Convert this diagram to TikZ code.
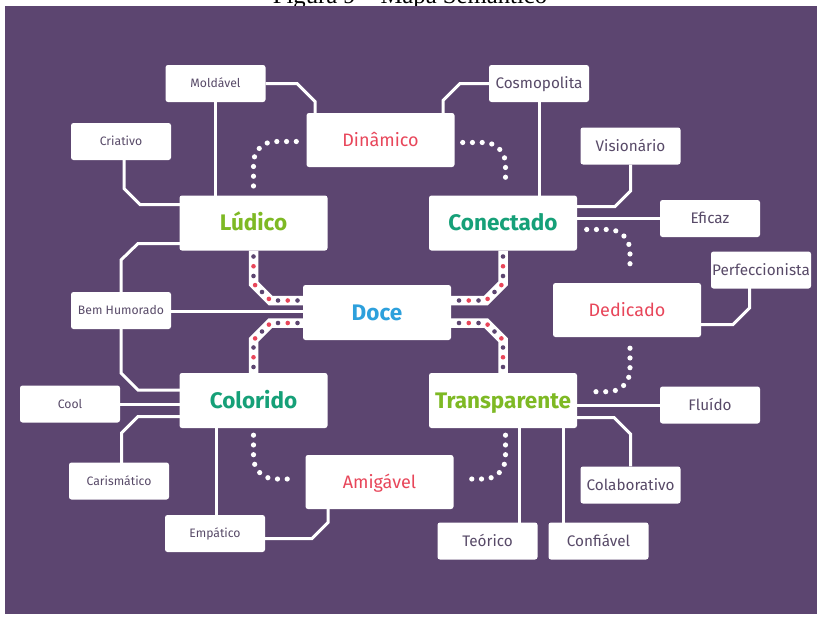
\documentclass[tikz,border=0pt]{standalone}
\usepackage{fontspec}
\setmainfont{Fira Sans}
\newfontfamily\captionfont{Liberation Serif}
\usetikzlibrary{calc}

\definecolor{plum}{RGB}{92,69,112}
\definecolor{leaf}{RGB}{126,185,36}
\definecolor{jade}{RGB}{22,160,120}
\definecolor{sky}{RGB}{45,160,220}
\definecolor{coral}{RGB}{232,70,90}
\definecolor{ink}{RGB}{88,74,104}

\pgfdeclarelayer{back}
\pgfdeclarelayer{wires}
\pgfsetlayers{back,wires,main}

\tikzset{
  card/.style={fill=white, rounded corners=2.5pt, inner sep=0pt, text depth=0pt},
  hub/.style={card, minimum width=148pt, minimum height=55pt, text height=15.2pt,
    font=\fontsize{22.5}{22.5}\selectfont\bfseries},
  trait/.style={card, minimum width=148pt, minimum height=54pt, text height=12.4pt,
    text=coral, font=\fontsize{18}{18}\selectfont},
  tagL/.style={card, minimum width=100pt, minimum height=37pt, text height=8.3pt,
    text=ink, font=\fontsize{12.2}{12.2}\selectfont},
  tagR/.style={card, minimum width=100pt, minimum height=37pt, text height=10.5pt,
    text=ink, font=\fontsize{15.3}{15.3}\selectfont},
  wire/.style={draw=white, line width=3pt},
  trail/.style={draw=white, line width=5.2pt, line cap=round,
    dash pattern=on 0pt off 9.75pt, rounded corners=21.5pt},
  track/.style={draw=white, line width=9.5pt},
  beadP/.style={draw=plum, line width=4.6pt, line cap=round,
    dash pattern=on 0pt off 19.51pt},
  beadR/.style={draw=coral, line width=4.6pt, line cap=round,
    dash pattern=on 0pt off 19.51pt, dash phase=9.755pt},
}

\begin{document}
\begin{tikzpicture}[x=1pt,y=-1pt]
\useasboundingbox (0,0) rectangle (821,616);

% central hubs
\node[hub,text=leaf] (ludico) at (253.5,223) {Lúdico};
\node[hub,text=jade] (conectado) at (503,223) {Conectado};
\node[hub,text=jade] (colorido) at (253.5,400.5) {Colorido};
\node[hub,text=leaf] (transparente) at (503,400.5) {Transparente};
\node[hub,text=sky] (doce) at (377,312.5) {Doce};

% linking traits
\node[trait] (dinamico) at (380.5,140) {Dinâmico};
\node[trait] (dedicado) at (627,310) {Dedicado};
\node[trait] (amigavel) at (379.5,482) {Amigável};

% outer tags
\node[tagL] (moldavel) at (215.5,83.5) {Moldável};
\node[tagL] (criativo) at (121,141.5) {Criativo};
\node[tagL] (bemhumorado) at (121,310.5) {Bem Humorado};
\node[tagL] (cool) at (70,404) {Cool};
\node[tagL] (carismatico) at (119,481) {Carismático};
\node[tagL] (empatico) at (215,533.5) {Empático};
\node[tagR] (cosmopolita) at (539,83.5) {Cosmopolita};
\node[tagR] (visionario) at (630.5,146) {Visionário};
\node[tagR] (eficaz) at (710,218.5) {Eficaz};
\node[tagR] (perfeccionista) at (761,270) {Perfeccionista};
\node[tagR] (fluido) at (710,405) {Fluído};
\node[tagR] (colaborativo) at (630.5,485) {Colaborativo};
\node[tagR] (teorico) at (487.5,541) {Teórico};
\node[tagR] (confiavel) at (598.5,541) {Confiável};

\begin{pgfonlayer}{back}
  \fill[white] (0,0) rectangle (821,616);
  \node[font=\captionfont\fontsize{24.7}{25}\selectfont, anchor=base, inner sep=0pt]
    (caption) at (410,3.5) {Figura 9 – Mapa Semântico};
  \fill[plum] (5,6) rectangle (817,614);
\end{pgfonlayer}

\begin{pgfonlayer}{wires}
  % plain white connectors
  \draw[wire] (moldavel) -- (moldavel |- ludico);
  \draw[wire] (moldavel) -- (297,83.5) -- (315,101.5) -- (dinamico -| 315,0);
  \draw[wire] (cosmopolita) -- (460,83.5) -- (443,100.5) -- (dinamico -| 443,0);
  \draw[wire] (cosmopolita) -- (cosmopolita |- conectado);
  \draw[wire] (visionario) -- (630.5,191) -- (615,206.5) -- (conectado |- 0,206.5);
  \draw[wire] (eficaz) -- (conectado |- eficaz);
  \draw[wire] (perfeccionista -| 749.5,0) -- (749.5,308) -- (733,324.5) -- (dedicado |- 0,324.5);
  \draw[wire] (fluido) -- (transparente |- fluido);
  \draw[wire] (transparente |- 0,417.5) -- (614,417.5) -- (630.5,434) -- (colaborativo);
  \draw[wire] (transparente -| 519,0) -- (teorico -| 519,0);
  \draw[wire] (transparente -| 563.5,0) -- (confiavel -| 563.5,0);
  \draw[wire] (colorido -| 216,0) -- (empatico -| 216,0);
  \draw[wire] (empatico |- 0,538.5) -- (312,538.5) -- (328,522.5) -- (amigavel -| 328,0);
  \draw[wire] (colorido |- 0,416.5) -- (138,416.5) -- (121.5,433) -- (carismatico -| 121.5,0);
  \draw[wire] (cool) -- (colorido |- cool);
  \draw[wire] (colorido |- 0,390) -- (138,390) -- (121,373) -- (bemhumorado);
  \draw[wire] (ludico |- 0,243.5) -- (138,243.5) -- (121,260) -- (bemhumorado);
  \draw[wire] (bemhumorado |- 0,311.5) -- (doce |- 0,311.5);
  \draw[wire] (criativo -| 124,0) -- (124,188.5) -- (140,204.5) -- (ludico |- 0,204.5);

  % beaded tracks into the centre
  \draw[track] (ludico) -- (253.5,283.5) -- (270.5,300.5) -- (doce |- 0,300.5);
  \draw[track] (doce |- 0,323) -- (270.5,323) -- (253.5,340) -- (colorido);
  \draw[track] (conectado) -- (503,283.5) -- (486,300.5) -- (doce |- 0,300.5);
  \draw[track] (doce |- 0,323) -- (486,323) -- (503,340) -- (transparente);
  \foreach \st in {beadP,beadR}{
    \path[\st] (253.5,256.5) -- (253.5,283.5) -- (270.5,300.5) -- (297.5,300.5);
    \path[\st] (297.5,323) -- (270.5,323) -- (253.5,340) -- (253.5,367);
    \path[\st] (503,256.5) -- (503,283.5) -- (486,300.5) -- (459,300.5);
    \path[\st] (459,323) -- (486,323) -- (503,340) -- (503,367);
  }

  % dotted arcs around the ring
  \path[trail] ($(dinamico.west)+(-10,1.5)$) -- (ludico.north |- 0,141.5) -- ($(ludico.north)+(0,-9)$);
  \path[trail] ($(dinamico.east)+(8,2.5)$) -- (505.5,142.5) -- ($(conectado.north)+(2.5,-9)$);
  \path[trail] ($(conectado.east)+(9.5,6.5)$) -- (630,229.5) -- ($(dedicado.north)+(3,-10)$);
  \path[trail] ($(dedicado.south)+(3,11)$) -- (630,391.7) -- ($(transparente.east)+(9.5,-8.8)$);
  \path[trail] ($(transparente.south)+(2.5,7)$) -- (505.5,479) -- ($(amigavel.east)+(8.5,-3)$);
  \path[trail] ($(colorido.south)+(0,7)$) -- (253.5,479) -- ($(amigavel.west)+(-8.5,-3)$);
\end{pgfonlayer}
\end{tikzpicture}
\end{document}
